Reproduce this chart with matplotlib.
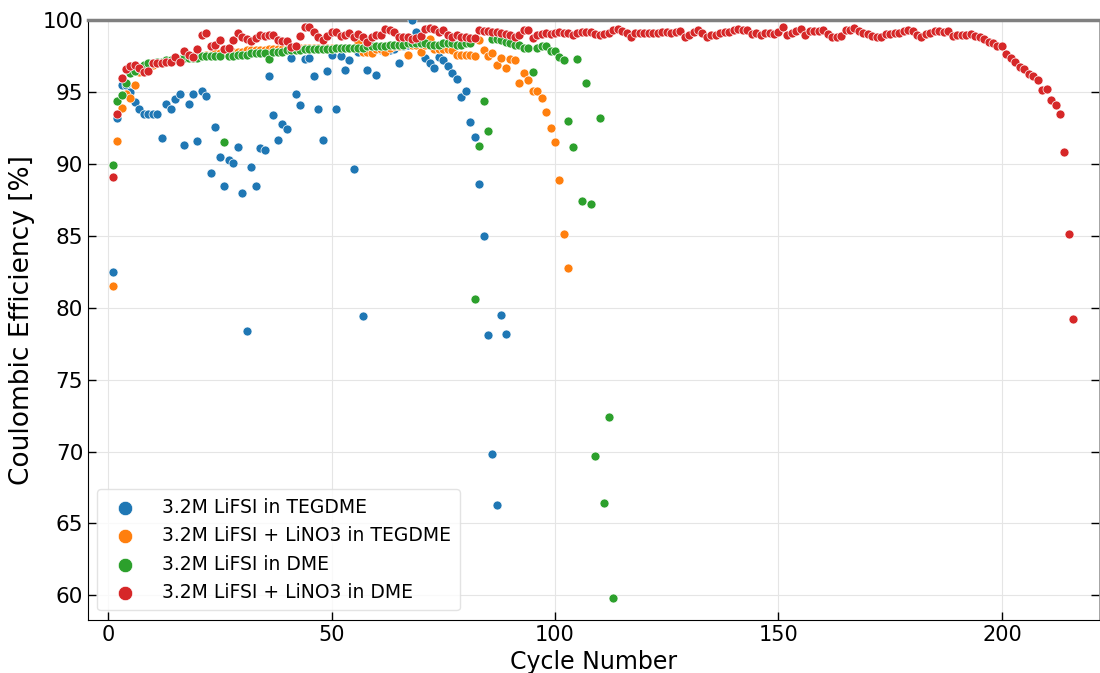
import matplotlib
matplotlib.use("Agg")
import matplotlib.pyplot as plt

labels = ["3.2M LiFSI in TEGDME", "3.2M LiFSI + LiNO3 in TEGDME",
          "3.2M LiFSI in DME", "3.2M LiFSI + LiNO3 in DME"]
colors = ["#1f77b4", "#ff7f0e", "#2ca02c", "#d62728"]

ce_tegdme = [82.5, 93.2, 95.5, 95.5, 95.0, 94.3, 93.85, 93.5, 93.5, 93.5,
             93.5, 91.8, 94.15, 93.85, 94.5, 94.9, 91.3, 94.2, 94.85, 91.6,
             95.1, 94.7, 89.4, 92.6, 90.5, 88.5, 90.3, 90.1, 91.2, 87.95,
             78.4, 89.8, 88.5, 91.1, 90.95, 96.1, 93.4, 91.7, 92.8, 92.45,
             97.4, 94.9, 94.1, 97.3, 97.4, 96.1, 93.8, 91.65, 96.5, 97.6,
             93.8, 97.5, 96.55, 97.2, 89.65, 97.8, 79.4, 96.55, 97.9, 96.2,
             97.9, 97.8, 97.9, 98.0, 97.05, 98.2, 98.3, 100.0, 99.2, 98.3,
             97.4, 97.0, 96.7, 97.45, 97.2, 96.8, 96.3, 95.9, 94.65, 95.1,
             92.9, 91.9, 88.6, 85.0, 78.1, 69.8, 66.3, 79.5, 78.2]

ce_tegdme_lino3 = [81.5, 91.6, 93.9, 94.9, 94.6, 95.5, 96.4, 96.6, 96.8, 96.9,
                   97.0, 97.0, 97.1, 97.2, 97.2, 97.3, 97.4, 97.4, 97.5, 97.5,
                   97.5, 97.6, 97.6, 97.7, 97.7, 97.7, 97.8, 97.8, 97.8, 97.8,
                   97.9, 97.9, 97.9, 97.9, 97.9, 98.0, 98.0, 98.0, 98.0, 98.0,
                   98.0, 98.0, 98.05, 98.05, 98.05, 98.05, 98.1, 98.1, 98.1, 98.1,
                   98.1, 98.1, 98.1, 98.1, 98.1, 98.45, 97.8, 97.8, 97.7, 98.0,
                   98.0, 97.8, 98.1, 98.2, 98.2, 98.3, 97.6, 98.3, 98.3, 97.8,
                   98.3, 98.7, 98.0, 98.0, 98.0, 98.0, 97.9, 97.6, 97.6, 97.6,
                   97.6, 97.5, 98.6, 97.9, 97.5, 97.7, 96.9, 97.4, 96.65, 97.3,
                   97.2, 95.6, 96.35, 95.85, 95.1, 95.1, 94.6, 93.6, 92.5, 91.5,
                   88.9, 85.1, 82.8]

ce_dme = [89.9, 94.4, 94.8, 95.6, 96.3, 96.5, 96.7, 96.9, 97.0, 97.0,
          97.1, 97.1, 97.2, 97.2, 97.3, 97.3, 97.4, 97.4, 97.4, 97.4,
          97.5, 97.5, 97.5, 97.5, 97.5, 91.5, 97.5, 97.5, 97.6, 97.6,
          97.6, 97.7, 97.7, 97.7, 97.7, 97.3, 97.8, 97.8, 97.8, 97.9,
          97.9, 97.9, 97.9, 98.0, 98.0, 98.0, 98.0, 98.0, 98.0, 98.0,
          98.1, 98.1, 98.1, 98.1, 98.1, 98.1, 98.1, 98.2, 98.2, 98.2,
          98.2, 98.2, 98.3, 98.3, 98.3, 98.3, 98.4, 98.4, 98.4, 98.4,
          98.4, 98.3, 98.3, 98.3, 98.4, 98.4, 98.4, 98.3, 98.3, 98.4,
          98.4, 80.6, 91.25, 94.4, 92.3, 98.7, 98.7, 98.6, 98.45, 98.4,
          98.3, 98.3, 98.1, 98.1, 96.4, 98.1, 98.2, 98.2, 97.85, 97.85,
          97.45, 97.2, 93.0, 91.2, 97.3, 87.4, 95.65, 87.25, 69.7, 93.2,
          66.45, 72.4, 59.8]

ce_dme_lino3 = [89.1, 93.45, 95.95, 96.6, 96.8, 96.9, 96.7, 96.4, 96.5, 97.0,
                97.05, 97.0, 97.1, 97.1, 97.45, 97.1, 97.85, 97.6, 97.45, 98.0,
                99.0, 99.1, 98.2, 98.3, 98.6, 98.0, 98.1, 98.6, 99.1, 98.85,
                98.7, 98.55, 98.75, 99.0, 98.9, 99.0, 99.0, 98.6, 98.55, 98.55,
                98.15, 98.2, 98.9, 99.55, 99.55, 99.2, 98.8, 98.6, 98.9, 99.2,
                99.15, 98.9, 99.0, 99.1, 98.85, 99.05, 98.85, 98.5, 98.85, 99.0,
                99.0, 99.4, 99.3, 99.2, 98.85, 98.85, 98.85, 98.7, 98.75, 98.9,
                99.4, 99.45, 99.4, 99.2, 99.3, 99.0, 98.85, 99.0, 98.85, 98.8,
                98.75, 98.75, 99.33, 99.26, 99.26, 99.21, 99.21, 99.14, 99.02, 98.98,
                98.84, 98.98, 99.3, 99.3, 98.75, 98.98, 99.07, 99.14, 99.07, 99.14,
                99.21, 99.14, 99.14, 99.0, 99.1, 99.15, 99.2, 99.15, 99.05, 99.0,
                99.05, 99.1, 99.3, 99.4, 99.25, 99.1, 98.85, 99.1, 99.14, 99.14,
                99.1, 99.14, 99.1, 99.2, 99.17, 99.14, 99.17, 99.26, 98.85, 98.95,
                99.2, 99.3, 99.1, 98.8, 98.95, 99.0, 99.1, 99.2, 99.2, 99.35,
                99.4, 99.3, 99.3, 99.05, 99.1, 98.95, 99.1, 99.1, 99.05, 99.15,
                99.5, 99.0, 99.1, 99.25, 99.37, 98.98, 99.25, 99.25, 99.25, 99.3,
                99.05, 98.85, 98.8, 98.9, 99.3, 99.35, 99.44, 99.25, 99.14, 99.07,
                98.91, 98.84, 98.84, 99.02, 99.07, 99.14, 99.14, 99.26, 99.3, 99.26,
                99.0, 98.84, 99.07, 99.14, 99.26, 99.26, 99.21, 99.26, 98.9, 98.98,
                98.98, 98.98, 99.02, 98.91, 98.86, 98.68, 98.51, 98.44, 98.21, 98.21,
                97.63, 97.4, 97.12, 96.75, 96.59, 96.24, 96.12, 95.84, 95.12, 95.19,
                94.42, 94.1, 93.45, 90.8, 85.15, 79.25]

series = [ce_tegdme, ce_tegdme_lino3, ce_dme, ce_dme_lino3]

fig = plt.figure(figsize=(11, 6.73), dpi=100)
ax = fig.add_axes([0.08, 0.079, 0.919, 0.891])

for vals, lab, col in zip(series, labels, colors):
    cycles = list(range(1, len(vals) + 1))
    ax.scatter(cycles, vals, s=42, color=col, edgecolors="white",
               linewidths=0.5, label=lab, zorder=3)

ax.set_xlim(-4.5, 221.7)
ax.set_ylim(58.3, 100)
ax.set_yticks([60, 65, 70, 75, 80, 85, 90, 95, 100])
ax.set_xticks([0, 50, 100, 150, 200])
ax.grid(True, color="#e5e5e5", linewidth=0.8, zorder=0)
ax.set_axisbelow(True)

ax.tick_params(axis="both", direction="in", length=6, width=1)
ax.tick_params(axis="y", labelsize=15.5, right=True)
ax.tick_params(axis="x", labelsize=15)
for side in ["top", "right"]:
    ax.spines[side].set_color("#808080")
ax.spines["top"].set_linewidth(2.5)
ax.spines["right"].set_linewidth(0.5)

ax.set_xlabel("Cycle Number", fontsize=17, labelpad=4)
ax.set_ylabel("Coulombic Efficiency [%]", fontsize=19, labelpad=5)

leg = ax.legend(loc="lower left", fontsize=13.5, markerscale=1.6,
                labelspacing=0.5, borderpad=0.45, handletextpad=1.0,
                framealpha=0.8, edgecolor="#dddddd")

fig.savefig("out.png", dpi=100)
